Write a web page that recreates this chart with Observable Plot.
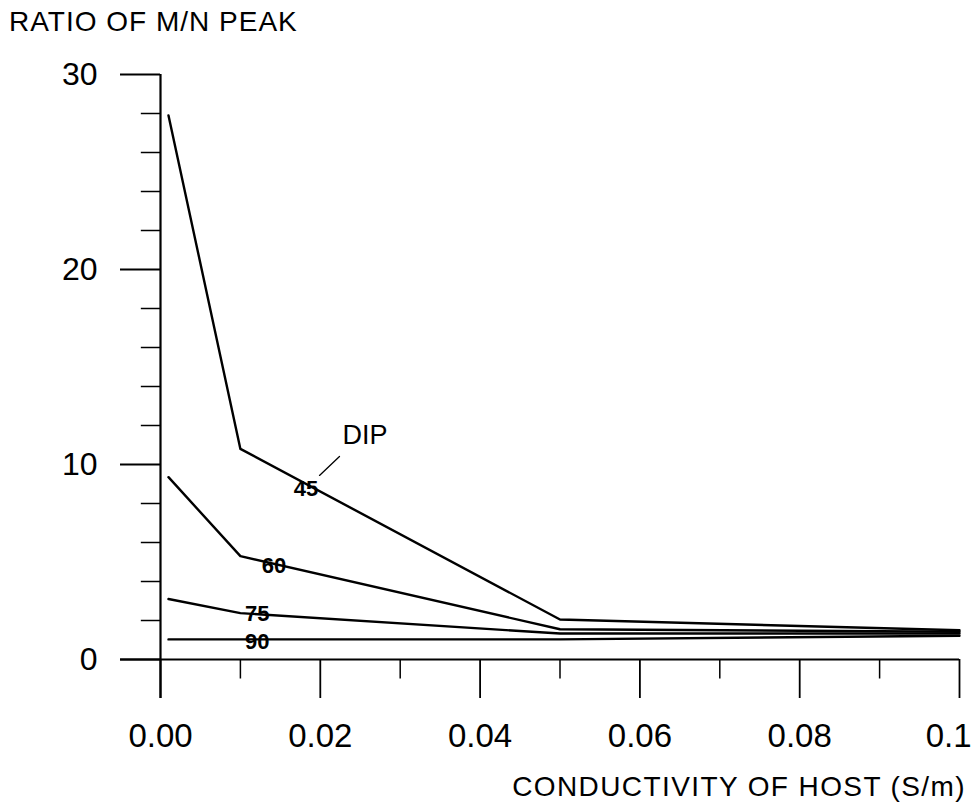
<!DOCTYPE html>
<html>
<head>
<meta charset="utf-8">
<script src="https://cdn.jsdelivr.net/npm/d3@7"></script>
<script src="https://cdn.jsdelivr.net/npm/@observablehq/plot@0.6"></script>
<style>
  html, body { margin: 0; padding: 0; background: #fff; }
  #wrap { position: relative; width: 975px; height: 806px; font-family: "Liberation Sans", Arial, sans-serif; color: #000; overflow: hidden; }
  #title { position: absolute; left: 9px; top: 6px; font-size: 28px; letter-spacing: 1px; white-space: nowrap; }
  #xlabel { position: absolute; right: 9px; top: 771px; font-size: 28px; letter-spacing: 1.4px; white-space: nowrap; }
  #chart { position: absolute; left: 0; top: 0; }
</style>
</head>
<body>
<div id="wrap">
  <div id="chart"></div>
  <div id="title">RATIO OF M/N PEAK</div>
  <div id="xlabel">CONDUCTIVITY OF HOST (S/m)</div>
</div>
<script>
// Conductivity of host (S/m)
const conductivity = [0.001, 0.01, 0.05, 0.1];
// Ratio of M/N peak for each dip
const dip45 = [27.9, 10.8, 2.05, 1.5];
const dip60 = [9.35, 5.3, 1.55, 1.42];
const dip75 = [3.1, 2.38, 1.33, 1.33];
const dip90 = [1.03, 1.03, 1.03, 1.22];

const seriesNames = ["45", "60", "75", "90"];
const seriesValues = [dip45, dip60, dip75, dip90];

// curve labels (data coordinates)
const labelX = [0.0182, 0.0142, 0.0121, 0.0121];
const labelY = [8.74, 4.82, 2.36, 0.92];
const dipTitle = "DIP";
const dipTitleX = 0.0256;
const dipTitleY = 11.49;
const leaderX = [0.0224, 0.0199];
const leaderY = [10.41, 9.44];

// ticks
const xMajor = [0, 0.02, 0.04, 0.06, 0.08, 0.1];
const xTickLabels = ["0.00", "0.02", "0.04", "0.06", "0.08", "0.1"];
const xMinor = [0.01, 0.03, 0.05, 0.07, 0.09];
const yMajor = [0, 10, 20, 30];
const yMinor = [2, 4, 6, 8, 12, 14, 16, 18, 22, 24, 26, 28];

const rows = [];
seriesNames.forEach((name, i) => {
  conductivity.forEach((c, j) => rows.push({dip: name, x: c, y: seriesValues[i][j]}));
});
const labels = seriesNames.map((n, i) => ({text: n, x: labelX[i], y: labelY[i]}));
const leader = leaderX.map((x, i) => ({x, y: leaderY[i]}));
const xLabelRows = xMajor.map((x, i) => ({x, text: xTickLabels[i]}));
const lastIdx = xLabelRows.length - 1;

const plot = Plot.plot({
  width: 975,
  height: 806,
  marginLeft: 160,
  marginRight: 16,
  marginTop: 74,
  marginBottom: 147,
  style: {fontFamily: "'Liberation Sans', Arial, sans-serif", fontSize: "32px", background: "#fff", color: "#000"},
  x: {domain: [0, 0.1], axis: null},
  y: {domain: [0, 30]},
  marks: [
    // axis lines
    Plot.ruleX([0], {y1: 30, y2: -2, stroke: "#000", strokeWidth: 2.2}),
    Plot.ruleY([0], {x1: -0.005, x2: 0.1, stroke: "#000", strokeWidth: 2.2}),
    // y ticks
    Plot.axisY({ticks: yMajor, tickSize: 40, tickPadding: 23, label: null, fontSize: 32, strokeWidth: 1.8}),
    Plot.ruleY(yMinor, {x1: -0.0024, x2: 0, stroke: "#000", strokeWidth: 1.5}),
    // x ticks
    Plot.ruleX(xMajor, {y1: 0, y2: -2, stroke: "#000", strokeWidth: 1.8}),
    Plot.ruleX(xMinor, {y1: 0, y2: -1, stroke: "#000", strokeWidth: 1.5}),
    // x tick labels
    Plot.text(xLabelRows.slice(0, lastIdx), {x: "x", y: -2, text: "text", dy: 38, fontSize: 33, fill: "#000"}),
    Plot.text(xLabelRows.slice(lastIdx), {x: "x", y: -2, text: "text", dy: 38, dx: 12, textAnchor: "end", fontSize: 33, fill: "#000"}),
    // curves
    Plot.line(rows, {x: "x", y: "y", z: "dip", stroke: "#000", strokeWidth: 2.4}),
    // curve labels
    Plot.text(labels, {x: "x", y: "y", text: "text", fontSize: 22, fontWeight: "bold", fill: "#000"}),
    Plot.text([dipTitle], {x: dipTitleX, y: dipTitleY, text: d => d, fontSize: 27, fill: "#000"}),
    Plot.line(leader, {x: "x", y: "y", stroke: "#000", strokeWidth: 1.3})
  ]
});
document.getElementById("chart").appendChild(plot);
</script>
</body>
</html>
